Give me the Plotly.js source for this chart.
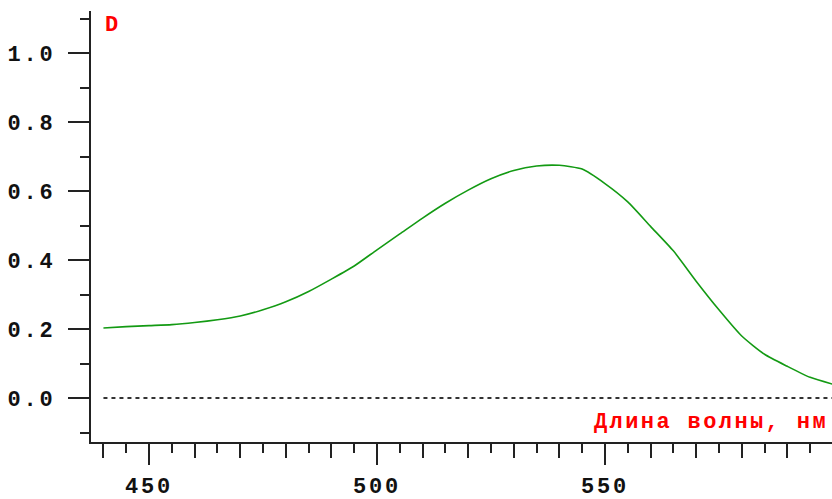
<!DOCTYPE html>
<html>
<head>
<meta charset="utf-8">
<script src="https://cdn.plot.ly/plotly-3.0.1.min.js"></script>
<style>
html,body{margin:0;padding:0;background:#fff;}
#chart{width:832px;height:499px;}
.xtick text,.ytick text{letter-spacing:2.8px;}
.annotation-text{letter-spacing:2.4px;}
</style>
</head>
<body>
<div id="chart"></div>
<script>
const wavelength = [440,445,450,455,460,465,470,475,480,485,490,495,500,505,510,515,520,525,530,535,540,545,550,555,560,565,570,575,580,585,590,595,600];
const absorbance = [0.203,0.207,0.210,0.213,0.219,0.227,0.238,0.256,0.279,0.309,0.345,0.383,0.430,0.476,0.522,0.565,0.603,0.636,0.660,0.673,0.675,0.664,0.622,0.569,0.498,0.427,0.339,0.256,0.180,0.127,0.092,0.060,0.040];
const zeroX = [440,600];
const zeroY = [0,0];
const yLabel = 'D';
const xLabel = 'Длина волны, нм';

const tickFont = {family:'Liberation Mono, DejaVu Sans Mono, monospace', size:22, color:'#111', weight:'bold'};
const redFont = {family:'Liberation Mono, DejaVu Sans Mono, monospace', size:22, color:'#ff0000', weight:'bold'};
const xr = [437.27, 599.8];

const data = [
  {x:zeroX, y:zeroY, xaxis:'x2', yaxis:'y', mode:'lines', line:{color:'#333', width:2, dash:'4px,4px'}, hoverinfo:'skip'},
  {x:wavelength, y:absorbance, mode:'lines', line:{color:'#139a13', width:1.6, shape:'spline', smoothing:0.6}}
];

const layout = {
  width:832, height:499,
  margin:{l:91, r:0, t:11, b:57},
  paper_bgcolor:'#fff', plot_bgcolor:'#fff',
  showlegend:false,
  xaxis:{range:xr, dtick:50, tick0:0, ticks:'outside', ticklen:21, tickwidth:2, tickcolor:'#222',
    showline:true, linecolor:'#222', linewidth:2, showgrid:false, zeroline:false,
    tickfont:tickFont, ticklabelstandoff:2,
    minor:{dtick:5, tick0:0, ticks:'outside', ticklen:9, tickwidth:2, tickcolor:'#222', showgrid:false}},
  xaxis2:{range:xr, overlaying:'x', anchor:'y', side:'bottom', dtick:10, tick0:0, ticks:'outside', ticklen:15, tickwidth:2, tickcolor:'#222',
    showticklabels:false, showline:false, showgrid:false, zeroline:false},
  yaxis:{range:[-0.1275, 1.1226], dtick:0.2, tick0:0, ticks:'outside', ticklen:21, tickwidth:2, tickcolor:'#222',
    showline:true, linecolor:'#222', linewidth:2, showgrid:false, zeroline:false,
    tickfont:tickFont, tickformat:'.1f', ticklabelstandoff:8,
    minor:{dtick:0.1, tick0:0, ticks:'outside', ticklen:9, tickwidth:2, tickcolor:'#222', showgrid:false}},
  annotations:[
    {text:yLabel, xref:'x', yref:'y', x:440, y:1.08, xanchor:'left', yanchor:'middle', showarrow:false, font:redFont},
    {text:xLabel, xref:'x', yref:'y', x:547.2, y:-0.071, xanchor:'left', yanchor:'middle', showarrow:false, font:redFont}
  ]
};

Plotly.newPlot('chart', data, layout, {staticPlot:true, displayModeBar:false});
</script>
</body>
</html>
